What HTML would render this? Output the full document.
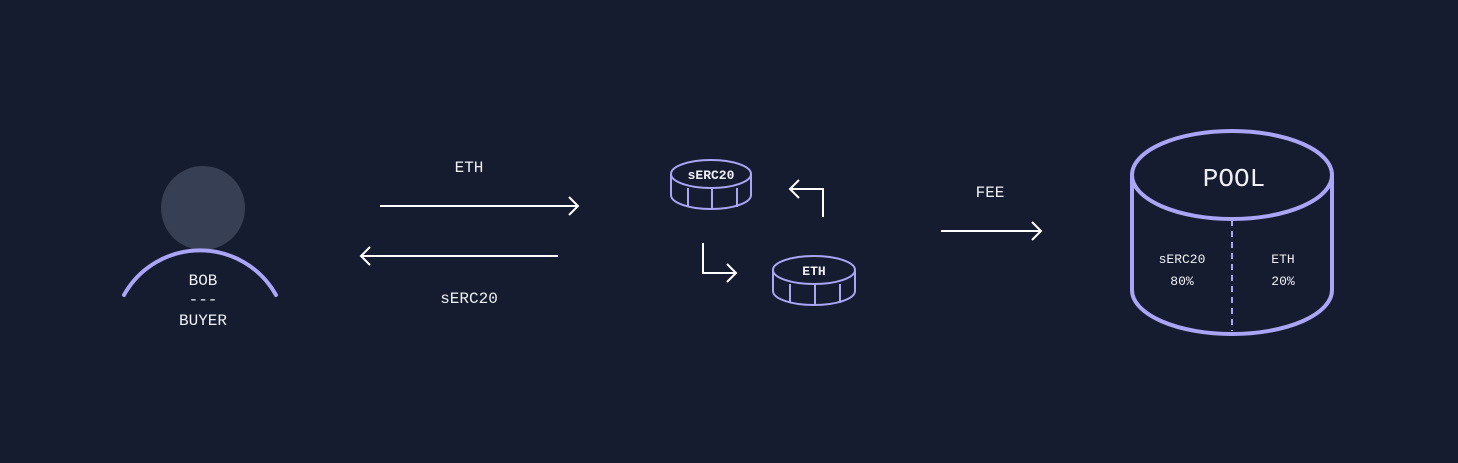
<!DOCTYPE html>
<html><head><style>
html,body{margin:0;padding:0;background:#151c2f;}
svg{display:block;}
text{font-family:"Liberation Mono",monospace;fill:#eef0f5;text-anchor:middle;}
</style></head><body>
<svg width="1458" height="463" viewBox="0 0 1458 463">
<rect width="1458" height="463" fill="#151c2f"/>
<!-- person -->
<circle cx="203" cy="208" r="42" fill="#363f54"/>
<path d="M124,295 A87,87 0 0 1 276,295" fill="none" stroke="#aaa5f6" stroke-width="4" stroke-linecap="round"/>
<text x="203" y="285" font-size="16">BOB</text>
<text x="203" y="304" font-size="16">---</text>
<text x="203" y="325" font-size="16">BUYER</text>
<!-- arrows -->
<g stroke="#ffffff" stroke-width="2" fill="none">
<path d="M380,206 H578 M569,197 L578,206 L569,215"/>
<path d="M558,256 H361 M370,247 L361,256 L370,265"/>
<path d="M823,217 V189 H790 M799,180 L790,189 L799,198"/>
<path d="M703,243 V273 H736 M727,264 L736,273 L727,282"/>
<path d="M941,231 H1041 M1032,222 L1041,231 L1032,240"/>
</g>
<text x="469" y="172" font-size="16">ETH</text>
<text x="469" y="303" font-size="16">sERC20</text>
<text x="990" y="197" font-size="16">FEE</text>
<!-- coins -->
<g stroke="#aaa5f6" stroke-width="2" fill="none">
<ellipse cx="711" cy="174" rx="40" ry="14"/>
<path d="M671,174 V195 A40,14 0 0 0 751,195 V174"/>
<path d="M688,188 V207 M712,189 V209 M737,188 V207"/>
<ellipse cx="814" cy="270" rx="41" ry="14"/>
<path d="M773,270 V291 A41,14 0 0 0 855,291 V270"/>
<path d="M790,284 V303 M815,285 V305 M840,284 V303"/>
</g>
<text x="711" y="179" font-size="13" font-weight="bold">sERC20</text>
<text x="814" y="275" font-size="13" font-weight="bold">ETH</text>
<!-- pool -->
<g stroke="#aaa5f6" stroke-width="4" fill="none">
<ellipse cx="1232" cy="175" rx="100" ry="44"/>
<path d="M1132,175 V290 A100,44 0 0 0 1332,290 V175"/>
</g>
<path d="M1232,220 V331" stroke="#aaa5f6" stroke-width="2" stroke-dasharray="6,5"/>
<text x="1234" y="186" font-size="26" font-family="Liberation Sans">POOL</text>
<text x="1182" y="263" font-size="13">sERC20</text>
<text x="1182" y="285" font-size="13">80%</text>
<text x="1283" y="263" font-size="13">ETH</text>
<text x="1283" y="285" font-size="13">20%</text>
</svg>
</body></html>
